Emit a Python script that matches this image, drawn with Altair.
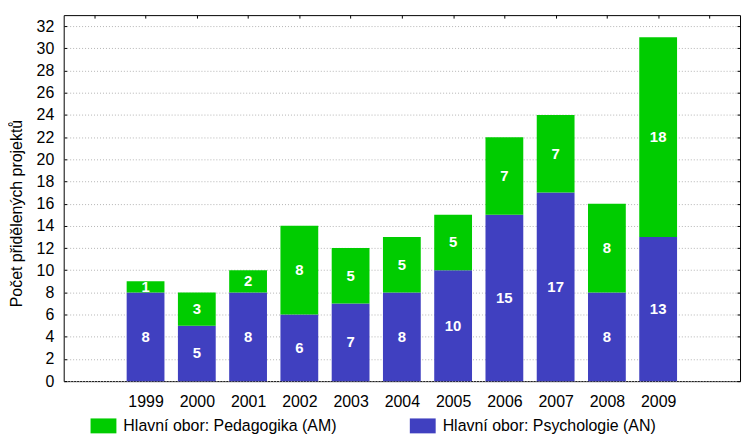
import altair as alt
import pandas as pd

years = [1999, 2000, 2001, 2002, 2003, 2004, 2005, 2006, 2007, 2008, 2009]
psychologie = [8, 5, 8, 6, 7, 8, 10, 15, 17, 8, 13]
pedagogika = [1, 3, 2, 8, 5, 5, 5, 7, 7, 8, 18]
series = ["Hlavní obor: Pedagogika (AM)", "Hlavní obor: Psychologie (AN)"]
colors = ["#00CC00", "#4040C0"]
y_ticks = list(range(0, 33, 2))
frame_ticks = list(range(1998, 2011))

rows = []
for yr, p, a in zip(years, psychologie, pedagogika):
    rows.append({"rok": yr, "obor": series[1], "pocet": p, "poradi": 0})
    rows.append({"rok": yr, "obor": series[0], "pocet": a, "poradi": 1})
df = pd.DataFrame(rows)

FONT = "Liberation Sans"
x_scale = alt.Scale(domain=[1997.5, 2010.5], nice=False, zero=False)
y_scale = alt.Scale(domain=[0, 33], nice=False, zero=True)

bars = alt.Chart(df).mark_bar(size=38).encode(
    x=alt.X("rok:Q", scale=x_scale,
            axis=alt.Axis(values=years, format="d", title=None, grid=False, ticks=False,
                          domain=False, labelPadding=12, labelFontSize=16,
                          labelColor="black", orient="bottom")),
    y=alt.Y("pocet:Q", stack="zero", scale=y_scale,
            axis=alt.Axis(values=y_ticks, title="Počet přidělených projektů",
                          titleFontSize=16, titleFontWeight="normal", titleColor="black",
                          titlePadding=12, titleY=199, grid=True, gridColor="#b4b4b4", gridDash=[1, 2],
                          domain=False, ticks=True, tickSize=3, offset=-3, tickColor="black",
                          labelPadding=10, labelFontSize=16, labelColor="black", orient="left")),
    color=alt.Color("obor:N", scale=alt.Scale(domain=series, range=colors),
                    legend=alt.Legend(orient="none", legendX=27, legendY=400,
                                      direction="horizontal", title=None,
                                      symbolType="M-1,-0.577H1V0.577H-1Z", symbolSize=676,
                                      symbolStrokeWidth=0, labelFontSize=16, labelColor="black",
                                      labelOffset=7, columnPadding=73, labelLimit=400)),
    order=alt.Order("poradi:Q"),
)

labels = alt.Chart(df).transform_stack(
    stack="pocet", groupby=["rok"], as_=["y0", "y1"], sort=[alt.SortField("poradi")]
).transform_calculate(
    mid="(datum.y0 + datum.y1) / 2"
).mark_text(font=FONT, fontWeight="bold", fontSize=15, color="white", baseline="middle").encode(
    x=alt.X("rok:Q", scale=x_scale,
            axis=alt.Axis(values=frame_ticks, orient="top", labels=False, domain=False,
                          grid=False, ticks=True, tickSize=3, offset=-3, tickColor="black",
                          title=None)),
    y=alt.Y("mid:Q", scale=y_scale,
            axis=alt.Axis(values=y_ticks, orient="right", labels=False, domain=False,
                          grid=False, ticks=True, tickSize=3, offset=-3, tickColor="black",
                          title=None)),
    text=alt.Text("pocet:Q"),
)

chart = alt.layer(bars, labels).resolve_axis(x="independent", y="independent").properties(
    width=680, height=368,
    padding={"left": 56, "top": 6, "right": 4, "bottom": 55},
    autosize=alt.AutoSizeParams(type="none"),
).configure(font=FONT).configure_view(stroke="black", strokeWidth=1)

chart.save("out.html", embed_options={"renderer": "svg", "actions": False})
